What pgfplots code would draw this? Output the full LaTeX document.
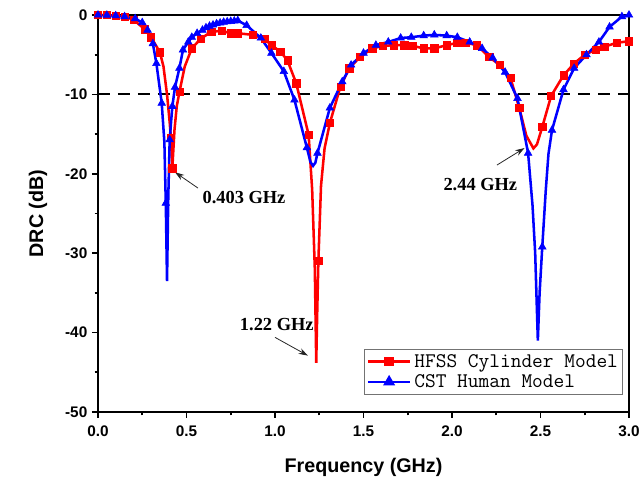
\documentclass[border=0pt]{standalone}
\usepackage{pgfplots}
\pgfplotsset{compat=1.18}
\usepackage{fontspec}
\setmainfont{Liberation Sans}
\newfontfamily\annfont{Liberation Serif}
\usetikzlibrary{arrows.meta}

\begin{document}
\begin{tikzpicture}
\useasboundingbox (-73.5pt,-55.5pt) rectangle (409.5pt,309pt);
\begin{axis}[
  scale only axis, width=398.25pt, height=297.75pt,
  xmin=0, xmax=3, ymin=-50, ymax=0,
  clip=false,
  axis line style={line width=1.5pt},
  xtick={0,0.5,1,1.5,2,2.5,3},
  xticklabels={0.0,0.5,1.0,1.5,2.0,2.5,3.0},
  ytick={-50,-40,-30,-20,-10,0},
  yticklabels={-50,-40,-30,-20,-10,0},
  minor x tick num=1, minor y tick num=1,
  tick align=outside, tick pos=left,
  major tick length=4.5pt, minor tick length=2.5pt,
  every tick/.style={line width=1.2pt, black},
  ticklabel style={font=\fontsize{11.5}{13}\selectfont\bfseries},
  xticklabel shift=2.5pt,
  label style={font=\fontsize{14.8}{17}\selectfont\bfseries},
  xlabel={Frequency (GHz)}, ylabel={DRC (dB)},
  xlabel style={at={(axis description cs:0.5,-0.1385)}, anchor=center},
  ylabel style={at={(axis description cs:-0.113,0.5)}, anchor=center},
  legend style={at={(axis description cs:0.9887,0.1587)}, anchor=north east,
    draw=black!55, line width=0.6pt, font=\ttfamily\fontsize{15.6}{15}\selectfont,
    inner sep=1.5pt, cells={anchor=west}},
  legend image code/.code={
    \draw[#1, mark repeat=2, mark phase=2] plot coordinates {(0pt,0pt) (16pt,0pt) (32pt,0pt)};
  },
]
% -10 dB reference
\addplot[black, line width=1.4pt, dash pattern=on 9pt off 6pt, forget plot] coordinates {(0,-10) (3,-10)};

% HFSS Cylinder Model (line)
\addplot[red, line width=1.9pt, forget plot] coordinates {
(0,0) (0.05,-0.02) (0.1,-0.08) (0.15,-0.2) (0.2,-0.6) (0.265,-1.8) (0.3,-2.8)
(0.35,-4.7) (0.37,-6.5) (0.39,-10) (0.405,-13.5) (0.412,-15.5) (0.42,-19.3)
(0.432,-14.5) (0.445,-11.5) (0.46,-9.7) (0.49,-6.5) (0.53,-4.2) (0.58,-3.0)
(0.64,-2.1) (0.7,-2.0) (0.75,-2.3) (0.79,-2.3) (0.875,-2.5) (0.94,-3.0)
(0.98,-3.8) (1.03,-4.6) (1.07,-5.7) (1.12,-8.6) (1.19,-15.1) (1.21,-22)
(1.225,-32) (1.233,-43.8) (1.238,-38) (1.245,-31) (1.26,-21.5) (1.28,-16.8)
(1.31,-13.6) (1.37,-9.0) (1.42,-6.7) (1.48,-5.3) (1.55,-4.2) (1.61,-3.9)
(1.67,-3.8) (1.73,-3.8) (1.78,-3.9) (1.84,-4.2) (1.90,-4.2) (1.97,-3.8)
(2.03,-3.5) (2.08,-3.5) (2.14,-3.8) (2.21,-5.3) (2.27,-6.3) (2.33,-7.9)
(2.38,-11.7) (2.42,-15.2) (2.46,-16.8) (2.48,-16.3) (2.51,-14.1) (2.56,-10.2)
(2.63,-7.6) (2.69,-6.1) (2.75,-5.0) (2.81,-4.4) (2.86,-4.0) (2.93,-3.5) (3.0,-3.3)
};
% HFSS markers
\addplot[red, only marks, mark=square*, mark size=2.7pt, forget plot] coordinates {
(0,0) (0.05,-0.02) (0.1,-0.08) (0.15,-0.2) (0.2,-0.6) (0.265,-1.8) (0.3,-2.8)
(0.35,-4.7) (0.412,-15.5) (0.42,-19.3) (0.46,-9.7) (0.53,-4.2) (0.58,-3.0)
(0.64,-2.1) (0.7,-2.0) (0.75,-2.3) (0.79,-2.3) (0.875,-2.5) (0.94,-3.0)
(0.98,-3.8) (1.03,-4.6) (1.07,-5.7) (1.12,-8.6) (1.19,-15.1) (1.245,-31)
(1.31,-13.6) (1.37,-9.0) (1.42,-6.7) (1.48,-5.3) (1.55,-4.2) (1.61,-3.9)
(1.67,-3.8) (1.73,-3.8) (1.78,-3.9) (1.84,-4.2) (1.90,-4.2) (1.97,-3.8)
(2.03,-3.5) (2.08,-3.5) (2.14,-3.8) (2.21,-5.3) (2.27,-6.3) (2.33,-7.9)
(2.38,-11.7) (2.51,-14.1) (2.56,-10.2)
(2.63,-7.6) (2.69,-6.1) (2.75,-5.0) (2.81,-4.4) (2.86,-4.0) (2.93,-3.5) (3.0,-3.3)
};

% CST Human Model (line)
\addplot[blue, line width=1.9pt, forget plot] coordinates {
(0,0) (0.05,-0.02) (0.1,-0.08) (0.15,-0.2) (0.21,-0.45) (0.25,-0.95) (0.28,-1.9)
(0.31,-3.6) (0.33,-6.1) (0.36,-11.1) (0.375,-16) (0.383,-23.7) (0.39,-33.5)
(0.397,-23) (0.405,-15.7) (0.42,-11.5) (0.435,-9.1) (0.46,-6.7) (0.48,-4.4)
(0.51,-3.4) (0.53,-2.8) (0.56,-2.3) (0.59,-1.9) (0.61,-1.6) (0.63,-1.4)
(0.65,-1.25) (0.67,-1.1) (0.69,-1.0) (0.71,-0.9) (0.73,-0.85) (0.75,-0.8)
(0.77,-0.75) (0.79,-0.7) (0.84,-1.3) (0.92,-2.9) (0.98,-4.8) (1.05,-7.1)
(1.11,-10.7) (1.18,-16.7) (1.2,-18.5) (1.215,-19.0) (1.228,-18.6) (1.24,-17.4)
(1.31,-11.7) (1.38,-8.4) (1.43,-6.3) (1.50,-4.8) (1.57,-3.8) (1.64,-3.4)
(1.71,-2.9) (1.77,-2.8) (1.84,-2.6) (1.90,-2.5) (1.97,-2.6) (2.03,-2.8)
(2.10,-3.4) (2.17,-4.2) (2.23,-5.4) (2.30,-7.2) (2.37,-10.5) (2.43,-17.4)
(2.455,-24) (2.47,-30) (2.485,-41) (2.495,-35) (2.51,-29.2) (2.53,-22)
(2.545,-17.5) (2.565,-14.5) (2.63,-9.4) (2.69,-6.7) (2.76,-5.0) (2.83,-3.4)
(2.89,-1.5) (2.96,-0.2) (3.0,0)
};
% CST markers
\addplot[blue, only marks, mark=triangle*, mark size=3.3pt, forget plot] coordinates {
(0,0) (0.05,-0.02) (0.1,-0.08) (0.15,-0.2) (0.21,-0.45) (0.25,-0.95) (0.28,-1.9)
(0.31,-3.6) (0.33,-6.1) (0.36,-11.1) (0.383,-23.7)
(0.405,-15.7) (0.42,-11.5) (0.435,-9.1) (0.46,-6.7) (0.48,-4.4)
(0.51,-3.4) (0.53,-2.8) (0.56,-2.3) (0.59,-1.9) (0.61,-1.6) (0.63,-1.4)
(0.65,-1.25) (0.67,-1.1) (0.69,-1.0) (0.71,-0.9) (0.73,-0.85) (0.75,-0.8)
(0.77,-0.75) (0.79,-0.7) (0.84,-1.3) (0.92,-2.9) (0.98,-4.8) (1.05,-7.1)
(1.11,-10.7) (1.18,-16.7) (1.24,-17.4)
(1.31,-11.7) (1.38,-8.4) (1.43,-6.3) (1.50,-4.8) (1.57,-3.8) (1.64,-3.4)
(1.71,-2.9) (1.77,-2.8) (1.84,-2.6) (1.90,-2.5) (1.97,-2.6) (2.03,-2.8)
(2.10,-3.4) (2.17,-4.2) (2.23,-5.4) (2.30,-7.2) (2.37,-10.5) (2.43,-17.4)
(2.51,-29.2) (2.565,-14.5) (2.63,-9.4) (2.69,-6.7) (2.76,-5.0) (2.83,-3.4)
(2.89,-1.5) (2.96,-0.2) (3.0,0)
};

\addlegendimage{red, line width=1.9pt, mark=square*, mark size=2.7pt}
\addlegendentry{HFSS Cylinder Model}
\addlegendimage{blue, line width=1.9pt, mark=triangle*, mark size=3.3pt}
\addlegendentry{CST Human Model}

% annotations
\node[font=\annfont\fontsize{13.8}{16}\selectfont\bfseries] at (axis cs:0.825,-23.0) {0.403 GHz};
\node[font=\annfont\fontsize{13.8}{16}\selectfont\bfseries] at (axis cs:1.01,-39.0) {1.22 GHz};
\node[font=\annfont\fontsize{13.8}{16}\selectfont\bfseries] at (axis cs:2.16,-21.3) {2.44 GHz};
\draw[-{Stealth[length=7pt,width=4.5pt]}, line width=0.6pt, black!85] (axis cs:0.565,-21.8) -- (axis cs:0.435,-19.8);
\draw[-{Stealth[length=7pt,width=4.5pt]}, line width=0.6pt, black!85] (axis cs:1.0,-40.6) -- (axis cs:1.186,-42.9);
\draw[-{Stealth[length=7pt,width=4.5pt]}, line width=0.6pt, black!85] (axis cs:2.254,-18.9) -- (axis cs:2.41,-16.75);
\end{axis}
\end{tikzpicture}
\end{document}
